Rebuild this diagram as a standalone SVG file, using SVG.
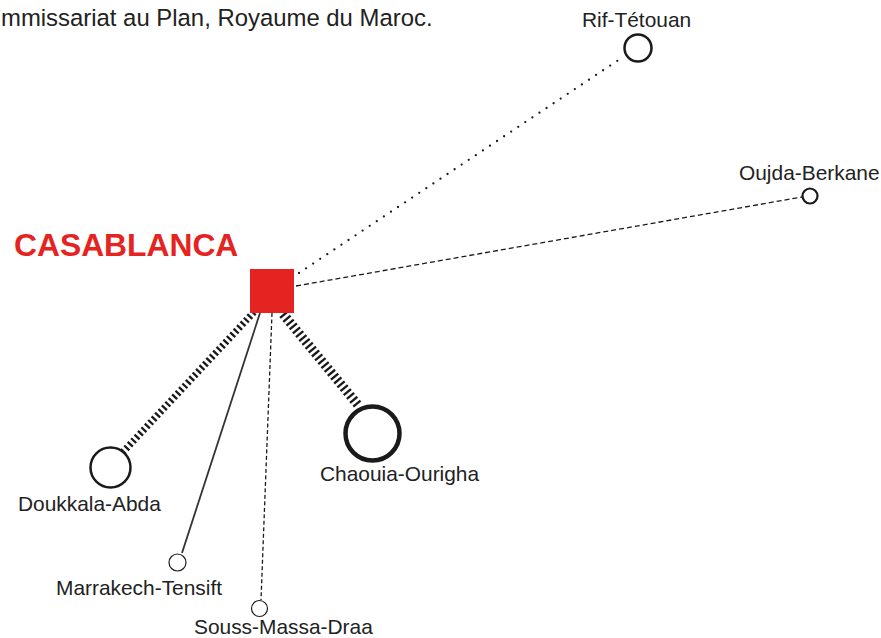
<svg xmlns="http://www.w3.org/2000/svg" width="881" height="638" viewBox="0 0 881 638">
<style>
.lbl{font-family:"Liberation Sans",Arial,sans-serif;font-size:20.9px;fill:#222}
.node{fill:#fff;stroke:#1a1a1a}
.hatch{fill:none;stroke:#1a1a1a;stroke-dasharray:2.3 2.7}
</style>
<rect width="881" height="638" fill="#fff"/>
<text x="1" y="26" class="lbl" style="font-size:23.9px">mmissariat au Plan, Royaume du Maroc.</text>
<g id="connectors">
<line x1="299" y1="273" x2="623" y2="57" stroke="#1a1a1a" stroke-width="2.3" stroke-linecap="round" stroke-dasharray="0 8.5"/>
<line x1="296" y1="286" x2="802" y2="197" stroke="#1a1a1a" stroke-width="1.3" stroke-dasharray="5 3"/>
<line x1="283" y1="314" x2="358" y2="405" class="hatch" stroke-width="9.5"/>
<line x1="254" y1="312" x2="123" y2="452" class="hatch" stroke-width="7"/>
<line x1="260" y1="313" x2="182" y2="553" stroke="#333" stroke-width="1.8"/>
<line x1="272" y1="313" x2="261" y2="600" stroke="#1a1a1a" stroke-width="1.3" stroke-dasharray="4 2.5"/>
</g>
<g id="casablanca">
<rect x="250" y="269" width="44" height="44" fill="#e52421"/>
<text x="14" y="256" style="font-family:'Liberation Sans',Arial,sans-serif;font-size:31.8px;font-weight:bold;fill:#e52421">CASABLANCA</text>
</g>
<g id="rif-tetouan">
<circle cx="638" cy="48" r="13.5" class="node" stroke-width="2.5"/>
<text x="582" y="27" class="lbl">Rif-Tétouan</text>
</g>
<g id="oujda-berkane">
<circle cx="810" cy="196" r="7.5" class="node" stroke-width="2.2"/>
<text x="739" y="180" class="lbl">Oujda-Berkane</text>
</g>
<g id="chaouia-ourigha">
<circle cx="372.5" cy="433.5" r="27" class="node" stroke-width="4.5"/>
<text x="320" y="481" class="lbl">Chaouia-Ourigha</text>
</g>
<g id="doukkala-abda">
<circle cx="110.5" cy="467.5" r="20" class="node" stroke-width="2.5"/>
<text x="18" y="511" class="lbl">Doukkala-Abda</text>
</g>
<g id="marrakech-tensift">
<circle cx="177.5" cy="562.5" r="8.5" class="node" stroke-width="1.2"/>
<text x="56" y="595" class="lbl">Marrakech-Tensift</text>
</g>
<g id="souss-massa-draa">
<circle cx="259.5" cy="608.5" r="8" class="node" stroke-width="1.2"/>
<text x="194" y="634" class="lbl">Souss-Massa-Draa</text>
</g>
</svg>
